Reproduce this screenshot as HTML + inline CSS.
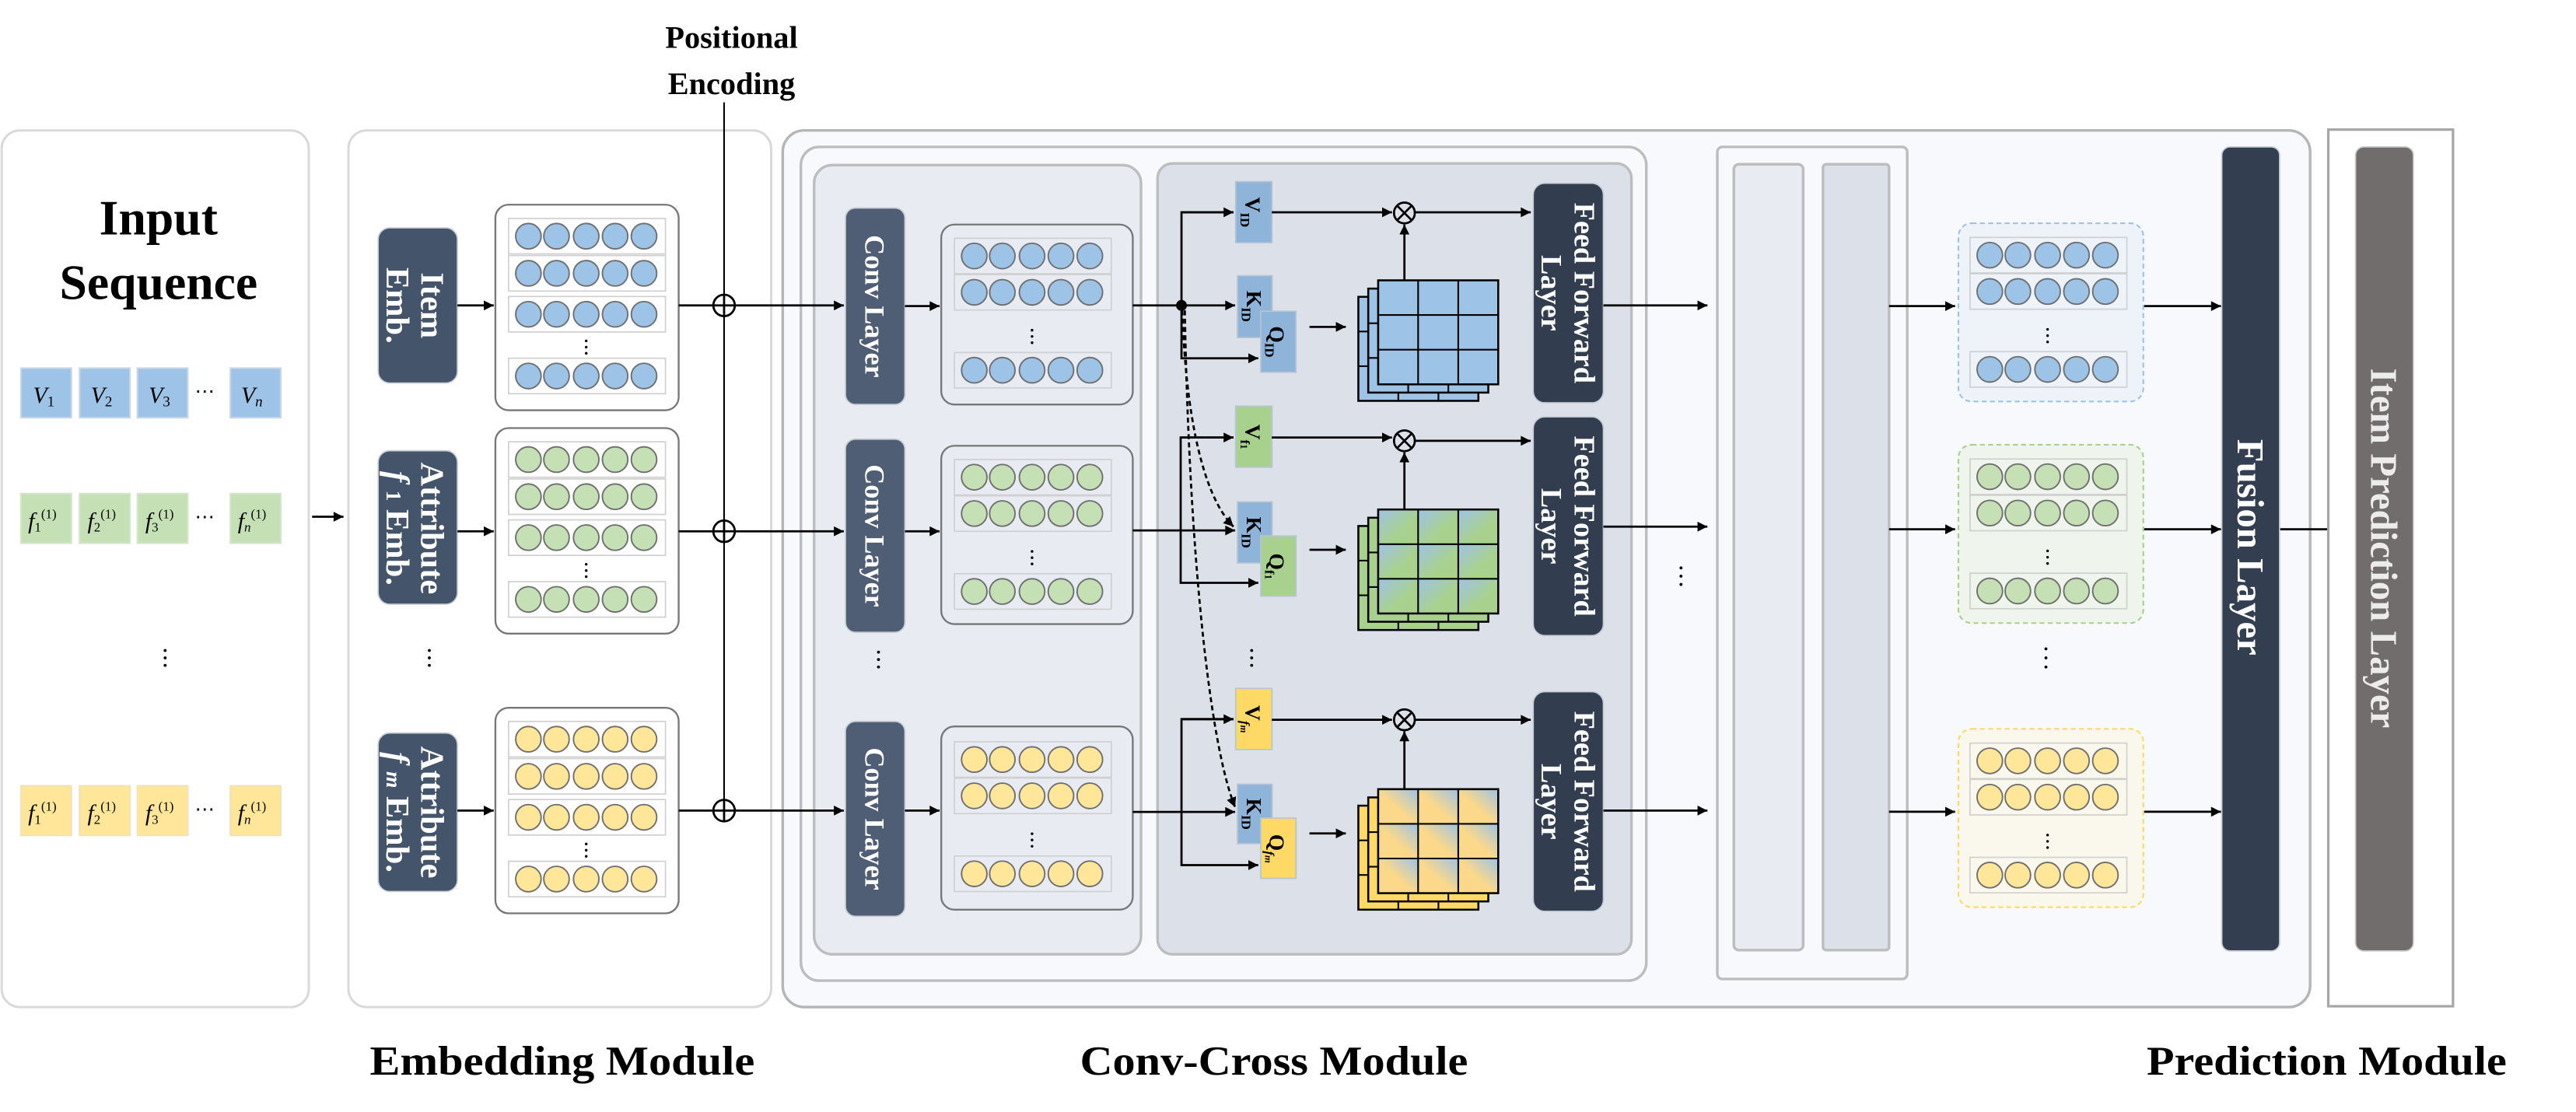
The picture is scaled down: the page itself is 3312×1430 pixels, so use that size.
<!DOCTYPE html>
<html><head><meta charset="utf-8"><style>
html,body{margin:0;padding:0;background:#fff;}
svg{display:block;}
text{font-family:"Liberation Serif",serif;}
</style></head><body>
<svg width="3312" height="1430" viewBox="0 0 1560 673.55" xmlns="http://www.w3.org/2000/svg">
<defs>
<marker id="a" viewBox="0 0 10 10" refX="10" refY="5" markerWidth="7" markerHeight="6" markerUnits="userSpaceOnUse" orient="auto"><path d="M0,0L10,5L0,10z" fill="#000"/></marker>
<g id="rb"><rect x="0" y="0" width="95" height="21.5" fill="none" stroke="#d0d0d0" stroke-width="0.8"/>
<g stroke="#707070" stroke-width="0.9"><circle cx="12" cy="10.75" r="7.7"/><circle cx="29" cy="10.75" r="7.7"/><circle cx="47" cy="10.75" r="7.7"/><circle cx="64.5" cy="10.75" r="7.7"/><circle cx="82" cy="10.75" r="7.7"/></g></g>
<g id="mE"><use href="#rb" y="8.3"/><use href="#rb" y="30.8"/><use href="#rb" y="55.6"/><use href="#rb" y="93"/>
<g fill="#000"><circle cx="47" cy="82.5" r="0.8"/><circle cx="47" cy="86.3" r="0.8"/><circle cx="47" cy="90" r="0.8"/></g></g>
<g id="mC"><use href="#rb" y="8.3"/><use href="#rb" y="30.3"/><use href="#rb" y="77.5"/>
<g fill="#000"><circle cx="47" cy="64" r="0.8"/><circle cx="47" cy="67.8" r="0.8"/><circle cx="47" cy="71.6" r="0.8"/></g></g>
<g id="gl"><rect x="0" y="0" width="72.7" height="63" fill="none" stroke="#000" stroke-width="1.2"/>
<g stroke="#000" stroke-width="1"><line x1="24.2" y1="0" x2="24.2" y2="63"/><line x1="48.5" y1="0" x2="48.5" y2="63"/><line x1="0" y1="21" x2="72.7" y2="21"/><line x1="0" y1="42" x2="72.7" y2="42"/></g></g>
<g id="gc"><rect x="0" y="0" width="24.2" height="21"/><rect x="24.2" y="0" width="24.3" height="21"/><rect x="48.5" y="0" width="24.2" height="21"/>
<rect x="0" y="21" width="24.2" height="21"/><rect x="24.2" y="21" width="24.3" height="21"/><rect x="48.5" y="21" width="24.2" height="21"/>
<rect x="0" y="42" width="24.2" height="21"/><rect x="24.2" y="42" width="24.3" height="21"/><rect x="48.5" y="42" width="24.2" height="21"/></g>
<linearGradient id="gg" x1="0" y1="0" x2="1" y2="1"><stop offset="0" stop-color="#9dc3e6"/><stop offset="0.6" stop-color="#a9d18e"/></linearGradient>
<linearGradient id="gy" x1="1" y1="0" x2="0" y2="1"><stop offset="0" stop-color="#9dc3e6"/><stop offset="0.55" stop-color="#fcd98a"/></linearGradient>
</defs>

<rect x="1" y="79" width="186" height="531" rx="11" fill="#fff" stroke="#d9d9d9" stroke-width="1.4"/>
<text x="96" y="142" font-size="30" font-weight="bold" text-anchor="middle">Input</text>
<text x="96" y="181" font-size="30" font-weight="bold" text-anchor="middle">Sequence</text>
<g stroke="#c8d6e6" stroke-width="1" fill="#9dc3e6">
<rect x="12.7" y="223" width="30.5" height="30"/><rect x="48.2" y="223" width="30.5" height="30"/><rect x="83.2" y="223" width="30.5" height="30"/><rect x="139.5" y="223" width="30.5" height="30"/></g>
<g stroke="#d5e5cc" stroke-width="1" fill="#c5e0b4">
<rect x="12.7" y="299" width="30.5" height="30"/><rect x="48.2" y="299" width="30.5" height="30"/><rect x="83.2" y="299" width="30.5" height="30"/><rect x="139.5" y="299" width="30.5" height="30"/></g>
<g stroke="#f0e3b8" stroke-width="1" fill="#ffe699">
<rect x="12.7" y="476" width="30.5" height="30"/><rect x="48.2" y="476" width="30.5" height="30"/><rect x="83.2" y="476" width="30.5" height="30"/><rect x="139.5" y="476" width="30.5" height="30"/></g>
<g font-size="14" font-style="italic">
<text x="20" y="244">V<tspan font-size="9" dy="2" font-style="normal">1</tspan></text>
<text x="55" y="244">V<tspan font-size="9" dy="2" font-style="normal">2</tspan></text>
<text x="90" y="244">V<tspan font-size="9" dy="2" font-style="normal">3</tspan></text>
<text x="146" y="244">V<tspan font-size="9" dy="2">n</tspan></text>
<text x="118" y="241" font-style="normal" font-size="12">⋯</text>
<text x="17" y="320">f<tspan font-size="8" dy="2" font-style="normal">1</tspan><tspan font-size="8" dy="-8" font-style="normal">(1)</tspan></text>
<text x="53" y="320">f<tspan font-size="8" dy="2" font-style="normal">2</tspan><tspan font-size="8" dy="-8" font-style="normal">(1)</tspan></text>
<text x="88" y="320">f<tspan font-size="8" dy="2" font-style="normal">3</tspan><tspan font-size="8" dy="-8" font-style="normal">(1)</tspan></text>
<text x="144" y="320">f<tspan font-size="8" dy="2">n</tspan><tspan font-size="8" dy="-8" font-style="normal">(1)</tspan></text>
<text x="118" y="317" font-style="normal" font-size="12">⋯</text>
<text x="17" y="497">f<tspan font-size="8" dy="2" font-style="normal">1</tspan><tspan font-size="8" dy="-8" font-style="normal">(1)</tspan></text>
<text x="53" y="497">f<tspan font-size="8" dy="2" font-style="normal">2</tspan><tspan font-size="8" dy="-8" font-style="normal">(1)</tspan></text>
<text x="88" y="497">f<tspan font-size="8" dy="2" font-style="normal">3</tspan><tspan font-size="8" dy="-8" font-style="normal">(1)</tspan></text>
<text x="144" y="497">f<tspan font-size="8" dy="2">n</tspan><tspan font-size="8" dy="-8" font-style="normal">(1)</tspan></text>
<text x="118" y="494" font-style="normal" font-size="12">⋯</text>
</g>
<g fill="#000"><circle cx="100" cy="394" r="0.9"/><circle cx="100" cy="398.5" r="0.9"/><circle cx="100" cy="403" r="0.9"/></g>
<line x1="189" y1="313" x2="208" y2="313" stroke="#000" stroke-width="1.3" marker-end="url(#a)"/>

<rect x="211" y="79" width="256" height="531" rx="11" fill="#fff" stroke="#d9d9d9" stroke-width="1.4"/>
<g fill="#44546a" stroke="#c9ced6" stroke-width="0.8">
<rect x="229" y="138" width="48" height="94" rx="7"/>
<rect x="229" y="273" width="48" height="93" rx="7"/>
<rect x="229" y="444" width="48" height="96" rx="7"/></g>
<g fill="#fff" font-size="20" font-weight="bold" text-anchor="middle">
<text transform="translate(253,185) rotate(90)"><tspan x="0" y="-2">Item</tspan><tspan x="0" y="19">Emb.</tspan></text>
<text transform="translate(253,320) rotate(90)"><tspan x="0" y="-2">Attribute</tspan><tspan x="0" y="19"><tspan font-style="italic">f</tspan> <tspan font-size="13">1</tspan> Emb.</tspan></text>
<text transform="translate(253,492) rotate(90)"><tspan x="0" y="-2">Attribute</tspan><tspan x="0" y="19"><tspan font-style="italic">f</tspan> <tspan font-size="13" font-style="italic">m</tspan> Emb.</tspan></text>
</g>
<g fill="#fff" stroke="#777" stroke-width="1.1">
<rect x="300" y="124" width="111" height="124.5" rx="8"/>
<rect x="300" y="259.3" width="111" height="124.5" rx="8"/>
<rect x="300" y="428.7" width="111" height="124.5" rx="8"/></g>
<use href="#mE" x="308" y="124" fill="#9dc3e6"/>
<use href="#mE" x="308" y="259.3" fill="#c5e0b4"/>
<use href="#mE" x="308" y="428.7" fill="#ffe699"/>
<g fill="#000"><circle cx="260" cy="394" r="0.9"/><circle cx="260" cy="398.5" r="0.9"/><circle cx="260" cy="403" r="0.9"/></g>
<g stroke="#000" stroke-width="1.3" marker-end="url(#a)">
<line x1="277" y1="185" x2="299" y2="185"/><line x1="277" y1="321.8" x2="299" y2="321.8"/><line x1="277" y1="491" x2="299" y2="491"/></g>

<text x="443" y="29" font-size="19" font-weight="bold" text-anchor="middle">Positional</text>
<text x="443" y="57" font-size="19" font-weight="bold" text-anchor="middle">Encoding</text>
<line x1="438.5" y1="62" x2="438.5" y2="491" stroke="#000" stroke-width="1"/>

<rect x="474" y="79" width="925" height="531" rx="13" fill="#f7f9fc" stroke="#b5b5b5" stroke-width="1.6"/>
<rect x="485" y="89" width="512" height="505" rx="11" fill="#f7f9fc" stroke="#bdbdbd" stroke-width="1.6"/>
<rect x="493" y="100" width="198" height="478" rx="11" fill="#e8ebf2" stroke="#bdbdbd" stroke-width="1.6"/>
<rect x="701" y="99" width="287" height="479" rx="9" fill="#dce0e8" stroke="#bdbdbd" stroke-width="1.6"/>

<g stroke="#000" stroke-width="1.3">
<line x1="411" y1="185" x2="511" y2="185" marker-end="url(#a)"/>
<line x1="411" y1="321.8" x2="511" y2="321.8" marker-end="url(#a)"/>
<line x1="411" y1="491" x2="511" y2="491" marker-end="url(#a)"/></g>
<g fill="#fff" stroke="#000" stroke-width="1.3">
<circle cx="438.5" cy="185" r="6.5"/><circle cx="438.5" cy="321.8" r="6.5"/><circle cx="438.5" cy="491" r="6.5"/></g>
<g stroke="#000" stroke-width="1.3">
<line x1="432" y1="185" x2="445" y2="185"/><line x1="438.5" y1="178.5" x2="438.5" y2="191.5"/>
<line x1="432" y1="321.8" x2="445" y2="321.8"/><line x1="438.5" y1="315.3" x2="438.5" y2="328.3"/>
<line x1="432" y1="491" x2="445" y2="491"/><line x1="438.5" y1="484.5" x2="438.5" y2="497.5"/></g>

<g fill="#4f5e74" stroke="#c7ccd4" stroke-width="0.8">
<rect x="512" y="126" width="36" height="119" rx="6"/>
<rect x="512" y="266" width="36" height="117" rx="6"/>
<rect x="512" y="437" width="36" height="118" rx="6"/></g>
<g fill="#fff" font-size="17" font-weight="bold" text-anchor="middle">
<text transform="translate(530,185.5) rotate(90)" y="6">Conv Layer</text>
<text transform="translate(530,324.5) rotate(90)" y="6">Conv Layer</text>
<text transform="translate(530,496) rotate(90)" y="6">Conv Layer</text></g>
<g fill="#000"><circle cx="532" cy="395" r="0.9"/><circle cx="532" cy="399.5" r="0.9"/><circle cx="532" cy="404" r="0.9"/></g>
<g fill="#e8ebf2" stroke="#777" stroke-width="1.1">
<rect x="570" y="136" width="116" height="109" rx="8"/>
<rect x="570" y="270" width="116" height="108" rx="8"/>
<rect x="570" y="440" width="116" height="111" rx="8"/></g>
<use href="#mC" x="578" y="136" fill="#9dc3e6"/>
<use href="#mC" x="578" y="270" fill="#c5e0b4"/>
<use href="#mC" x="578" y="441" fill="#ffe699"/>
<g stroke="#000" stroke-width="1.3" marker-end="url(#a)">
<line x1="548" y1="185.4" x2="569" y2="185.4"/><line x1="548" y1="321.8" x2="569" y2="321.8"/><line x1="548" y1="491" x2="569" y2="491"/></g>

<g stroke="#000" stroke-width="1.3" fill="none">
<line x1="686" y1="185" x2="748" y2="185" marker-end="url(#a)"/>
<line x1="686" y1="321.3" x2="748" y2="321.3" marker-end="url(#a)"/>
<line x1="686" y1="491.8" x2="748" y2="491.8" marker-end="url(#a)"/>
<polyline points="747,128.6 715.5,128.6 715.5,217 762,217" marker-end="url(#a)"/>
<line x1="715.5" y1="128.6" x2="747" y2="128.6" marker-end="url(#a)"/>
<polyline points="747,265 715,265 715,353 762,353" marker-end="url(#a)"/>
<line x1="715" y1="265" x2="747" y2="265" marker-end="url(#a)"/>
<polyline points="747,435.6 715.5,435.6 715.5,524 762,524" marker-end="url(#a)"/>
<line x1="715.5" y1="435.6" x2="747" y2="435.6" marker-end="url(#a)"/>
<path d="M716,188 C718,250 728,300 747,319" stroke-dasharray="3,2" marker-end="url(#a)"/>
<path d="M717.5,188 C720,330 732,450 748,489" stroke-dasharray="3,2" marker-end="url(#a)"/>
</g>
<circle cx="715.5" cy="185" r="3.3" fill="#000"/>
<g stroke="#b8c4d2" stroke-width="0.8">
<rect x="748.3" y="110" width="22" height="37" fill="#8fb4da"/>
<rect x="749.4" y="167" width="21" height="37.5" fill="#8fb4da"/>
<rect x="763.5" y="188.5" width="21.3" height="37" fill="#8fb4da"/>
<rect x="748.3" y="246" width="22" height="37" fill="#a9d18e"/>
<rect x="749.4" y="304" width="21" height="37" fill="#8fb4da"/>
<rect x="763.5" y="324.6" width="21.3" height="36.5" fill="#a9d18e"/>
<rect x="748.3" y="417" width="22" height="37" fill="#ffd966"/>
<rect x="749.4" y="475" width="21" height="36" fill="#8fb4da"/>
<rect x="763.5" y="495.5" width="21.3" height="36.5" fill="#ffd966"/>
</g>
<g font-size="13" font-weight="bold" text-anchor="middle">
<text transform="translate(759.3,128.5) rotate(90)" y="5">V<tspan font-size="8" dy="3">ID</tspan></text>
<text transform="translate(760,185.5) rotate(90)" y="5">K<tspan font-size="8" dy="3">ID</tspan></text>
<text transform="translate(774,207) rotate(90)" y="5">Q<tspan font-size="8" dy="3">ID</tspan></text>
<text transform="translate(759.3,264.5) rotate(90)" y="5">V<tspan font-size="8" dy="3">f<tspan font-size="6">1</tspan></tspan></text>
<text transform="translate(760,322.5) rotate(90)" y="5">K<tspan font-size="8" dy="3">ID</tspan></text>
<text transform="translate(774,343) rotate(90)" y="5">Q<tspan font-size="8" dy="3">f<tspan font-size="6">1</tspan></tspan></text>
<text transform="translate(759.3,435.5) rotate(90)" y="5">V<tspan font-size="8" dy="3" font-style="italic">f<tspan font-size="6">m</tspan></tspan></text>
<text transform="translate(760,493) rotate(90)" y="5">K<tspan font-size="8" dy="3">ID</tspan></text>
<text transform="translate(774,514) rotate(90)" y="5">Q<tspan font-size="8" dy="3" font-style="italic">f<tspan font-size="6">m</tspan></tspan></text>
</g>
<g fill="#000"><circle cx="758" cy="394" r="0.9"/><circle cx="758" cy="398.5" r="0.9"/><circle cx="758" cy="403" r="0.9"/></g>

<g transform="translate(834.6,169.8)">
<use href="#gc" x="-12" y="10" fill="#9dc3e6"/><use href="#gl" x="-12" y="10"/>
<use href="#gc" x="-6" y="5" fill="#9dc3e6"/><use href="#gl" x="-6" y="5"/>
<use href="#gc" fill="#9dc3e6"/><use href="#gl"/></g>
<g transform="translate(834.6,308.6)">
<use href="#gc" x="-12" y="10" fill="#a9d18e"/><use href="#gl" x="-12" y="10"/>
<use href="#gc" x="-6" y="5" fill="#a9d18e"/><use href="#gl" x="-6" y="5"/>
<use href="#gc" fill="url(#gg)"/><use href="#gl"/></g>
<g transform="translate(834.6,478)">
<use href="#gc" x="-12" y="10" fill="#ffd966"/><use href="#gl" x="-12" y="10"/>
<use href="#gc" x="-6" y="5" fill="#ffd966"/><use href="#gl" x="-6" y="5"/>
<use href="#gc" fill="url(#gy)"/><use href="#gl"/></g>

<g stroke="#000" stroke-width="1.3" fill="none">
<line x1="793" y1="198" x2="815" y2="198" marker-end="url(#a)"/>
<line x1="793" y1="333" x2="815" y2="333" marker-end="url(#a)"/>
<line x1="793" y1="504.8" x2="815" y2="504.8" marker-end="url(#a)"/>
<line x1="770.2" y1="128.6" x2="843" y2="128.6" marker-end="url(#a)"/>
<line x1="770.2" y1="265" x2="843" y2="265" marker-end="url(#a)"/>
<line x1="770.2" y1="436" x2="843" y2="436" marker-end="url(#a)"/>
<line x1="850.5" y1="169.8" x2="850.5" y2="136" marker-end="url(#a)"/>
<line x1="850.5" y1="308.6" x2="850.5" y2="274" marker-end="url(#a)"/>
<line x1="850.5" y1="478" x2="850.5" y2="443" marker-end="url(#a)"/>
<line x1="857" y1="128.6" x2="927" y2="128.6" marker-end="url(#a)"/>
<line x1="857" y1="267" x2="927" y2="267" marker-end="url(#a)"/>
<line x1="857" y1="436" x2="927" y2="436" marker-end="url(#a)"/>
<circle cx="850.5" cy="129" r="6.3"/><circle cx="850.5" cy="267" r="6.3"/><circle cx="850.5" cy="436" r="6.3"/>
<path d="M846,124.5L855,133.5M855,124.5L846,133.5M846,262.5L855,271.5M855,262.5L846,271.5M846,431.5L855,440.5M855,431.5L846,440.5"/>
</g>

<g fill="#323e50" stroke="#c7ccd4" stroke-width="0.8">
<rect x="928.5" y="111" width="42.5" height="133" rx="7"/>
<rect x="928.5" y="252.5" width="42.5" height="132.5" rx="7"/>
<rect x="928.5" y="419" width="42.5" height="133" rx="7"/></g>
<g fill="#fff" font-size="18" font-weight="bold" text-anchor="middle">
<text transform="translate(949.5,177.5) rotate(90)"><tspan x="0" y="-4">Feed Forward</tspan><tspan x="0" y="16">Layer</tspan></text>
<text transform="translate(949.5,318.7) rotate(90)"><tspan x="0" y="-4">Feed Forward</tspan><tspan x="0" y="16">Layer</tspan></text>
<text transform="translate(949.5,485.5) rotate(90)"><tspan x="0" y="-4">Feed Forward</tspan><tspan x="0" y="16">Layer</tspan></text></g>

<g stroke="#000" stroke-width="1.3" marker-end="url(#a)">
<line x1="971" y1="185" x2="1034" y2="185"/><line x1="971" y1="319" x2="1034" y2="319"/><line x1="971" y1="491" x2="1034" y2="491"/></g>
<g fill="#000"><circle cx="1018" cy="344" r="0.9"/><circle cx="1018" cy="349" r="0.9"/><circle cx="1018" cy="354" r="0.9"/></g>

<rect x="1040" y="89" width="115" height="504" rx="3" fill="#f7f9fc" stroke="#bdbdbd" stroke-width="1.6"/>
<rect x="1050" y="99.5" width="42" height="476" rx="3" fill="#e8ebf2" stroke="#bdbdbd" stroke-width="1.6"/>
<rect x="1104" y="99.5" width="40" height="476" rx="2" fill="#dce0e8" stroke="#bdbdbd" stroke-width="1.6"/>

<g stroke="#000" stroke-width="1.3" marker-end="url(#a)">
<line x1="1144" y1="185.4" x2="1184" y2="185.4"/><line x1="1144" y1="320.6" x2="1184" y2="320.6"/><line x1="1144" y1="491.7" x2="1184" y2="491.7"/>
<line x1="1298" y1="185.4" x2="1345" y2="185.4"/><line x1="1298" y1="320.6" x2="1345" y2="320.6"/><line x1="1298" y1="491.7" x2="1345" y2="491.7"/>
<line x1="1380" y1="320.6" x2="1425" y2="320.6"/></g>

<rect x="1186" y="135.2" width="112" height="108" rx="8" fill="#eef3fa" stroke="#9dc3e6" stroke-width="1" stroke-dasharray="3,2"/>
<rect x="1186" y="269.4" width="112" height="108" rx="8" fill="#eff4ed" stroke="#a9d18e" stroke-width="1" stroke-dasharray="3,2"/>
<rect x="1186" y="441.5" width="112" height="108" rx="8" fill="#faf8ec" stroke="#ffd966" stroke-width="1" stroke-dasharray="3,2"/>
<use href="#mC" x="1193" y="135.5" fill="#9dc3e6"/>
<use href="#mC" x="1193" y="269.7" fill="#c5e0b4"/>
<use href="#mC" x="1193" y="441.8" fill="#ffe699"/>
<g fill="#000"><circle cx="1239" cy="393" r="0.9"/><circle cx="1239" cy="398.5" r="0.9"/><circle cx="1239" cy="404" r="0.9"/></g>

<rect x="1345.5" y="89" width="35" height="487" rx="5" fill="#333e50" stroke="#c7ccd4" stroke-width="0.8"/>
<text transform="translate(1363,331.5) rotate(90)" y="8" fill="#fff" font-size="23" font-weight="bold" text-anchor="middle">Fusion Layer</text>

<rect x="1410" y="78.5" width="75.5" height="531" fill="#fff" stroke="#a6a6a6" stroke-width="1.5"/>
<rect x="1426.5" y="89" width="35" height="487" rx="5" fill="#716d6c" stroke="#c8c8c8" stroke-width="0.8"/>
<text transform="translate(1444,332) rotate(90)" y="8" fill="#ececec" font-size="23" font-weight="bold" text-anchor="middle">Item Prediction Layer</text>

<text x="340.5" y="651" font-size="25" font-weight="bold" text-anchor="middle" textLength="233" lengthAdjust="spacingAndGlyphs">Embedding Module</text>
<text x="771.5" y="651" font-size="25" font-weight="bold" text-anchor="middle" textLength="235" lengthAdjust="spacingAndGlyphs">Conv-Cross Module</text>
<text x="1409" y="651" font-size="25" font-weight="bold" text-anchor="middle" textLength="218" lengthAdjust="spacingAndGlyphs">Prediction Module</text>
</svg>
</body></html>
